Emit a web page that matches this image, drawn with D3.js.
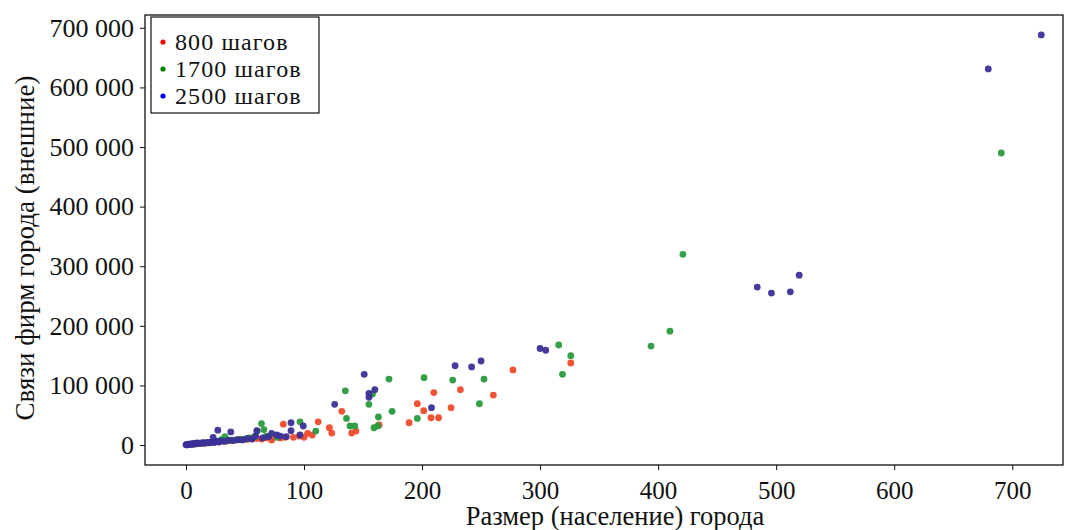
<!DOCTYPE html>
<html><head><meta charset="utf-8">
<script src="https://cdn.jsdelivr.net/npm/d3@7"></script>
<style>body{margin:0;background:#fff}svg{display:block}</style>
</head><body>
<svg id="c" width="1071" height="530"></svg>
<script>
const seriesNames = ["800 шагов", "1700 шагов", "2500 шагов"];
const xTicks = [0,100,200,300,400,500,600,700];
const yTicks = [0,100000,200000,300000,400000,500000,600000,700000];

// [size, links]
const red800 = [[1,500],[3,900],[5,1500],[8,1800],[10,2500],[13,3000],[16,3500],[20,4200],[24,5000],[28,5500],[32,6500],[36,7000],[40,8000],[44,8500],[48,9000],[52,9500],[56,10500],[60,11000],[64,10000],[68,12000],[72.6,8400],[76,14000],[80,12000],[84,13000],[91,13000],[82.5,35000],[96,15000],[100,13000],[103,19600],[107,16800],[112,39000],[121.5,29000],[123.5,20000],[132,56500],[140.4,20000],[144,23500],[163.6,33600],[189,37400],[196,69300],[201.4,57600],[207.6,45800],[210,88000],[214,45800],[224.6,62600],[232.5,92800],[260.4,83900],[277,126000],[326,137600]];
const green1700 = [[1,400],[4,1000],[7,1600],[11,2400],[15,3500],[19,3800],[23,5000],[27,6000],[30,9000],[33,14000],[38,8000],[42,8500],[46,9500],[50,10000],[54,12000],[58,14000],[60.4,23500],[64,36000],[66,26000],[68,15000],[77,13000],[96.6,39000],[110,23500],[135,91000],[136,44700],[139,31900],[143,31900],[155,68300],[158,85600],[159.3,29000],[162.5,32000],[163,47000],[172,110700],[174.6,56500],[196,44700],[201.7,113000],[226,109000],[248.6,69300],[252.5,110700],[315.8,168000],[319,118600],[326,150000],[394,166000],[410,191000],[421,320000],[690.7,490000]];
const blue2500 = [[0,300],[0.5,800],[1,1200],[1.5,600],[2,1500],[3,1000],[4,2000],[5,1400],[6,2500],[7,1800],[8,3000],[9,2200],[10,3500],[12,2800],[14,3800],[16,3000],[18,4500],[20,3800],[22,5000],[23,13000],[24,4200],[26,6000],[27,25000],[28,5000],[30,7000],[33,6000],[36,8000],[38,22000],[40,7500],[44,9000],[48,8500],[52,11000],[56,10000],[59,15000],[60,24000],[65,12000],[70,14000],[72.6,19600],[77,16800],[80,15000],[85,14000],[89,37400],[89,24000],[96.6,16800],[99.4,31900],[126,68300],[151,118600],[155,86700],[155,80000],[160,92800],[208,62600],[228,133000],[242,131000],[250,141000],[300,162000],[304.8,159000],[484,265000],[496,255000],[512,257000],[519.5,285000],[679.7,631000],[724.6,688000]];

const plotColors = ["#f04a2c", "#2a9a3e", "#3b3097"];
const legendColors = ["#ff0000", "#008000", "#0000ff"];
const seriesData = [red800, green1700, blue2500];

const W = 1071, H = 530;
const m = {left:145, right:8, top:15, bottom:65};
const svg = d3.select("#c");
const FONT = "'Liberation Serif', 'Times New Roman', serif";

const x = d3.scaleLinear().domain([-34.7, 743]).range([m.left, W - m.right]);
const y = d3.scaleLinear().domain([-33500, 721500]).range([H - m.bottom, m.top]);

const fmt = v => d3.format(",")(v).replace(/,/g, " ");

// points
seriesData.forEach((d, i) => {
  svg.append("g").selectAll("circle").data(d).join("circle")
    .attr("cx", p => x(p[0])).attr("cy", p => y(p[1])).attr("r", 3.4)
    .attr("fill", plotColors[i]).attr("opacity", 0.95);
});

// axes
const xa = svg.append("g").attr("transform", `translate(0,${H - m.bottom})`)
  .call(d3.axisBottom(x).tickValues(xTicks).tickSize(5).tickPadding(6).tickFormat(d3.format("d")));
const ya = svg.append("g").attr("transform", `translate(${m.left},0)`)
  .call(d3.axisLeft(y).tickValues(yTicks).tickSize(5).tickPadding(6).tickFormat(fmt));
[xa, ya].forEach(a => {
  a.select(".domain").remove();
  a.selectAll("text").attr("font-family", FONT).attr("fill", "#111");
  a.selectAll("line").attr("stroke", "#111");
});
xa.selectAll("text").attr("font-size", 25).attr("dy", "0.9em");
ya.selectAll("text").attr("font-size", 26);

// frame
svg.append("rect").attr("x", m.left).attr("y", m.top)
  .attr("width", W - m.left - m.right).attr("height", H - m.top - m.bottom)
  .attr("fill", "none").attr("stroke", "#111").attr("stroke-width", 1.3);

// axis labels
svg.append("text").attr("x", 615).attr("y", 525)
  .attr("text-anchor", "middle").attr("font-family", FONT).attr("font-size", 26.5).attr("fill", "#111")
  .text("Размер (население) города");
svg.append("text").attr("transform", `translate(34,248) rotate(-90)`)
  .attr("text-anchor", "middle").attr("font-family", FONT).attr("font-size", 27).attr("fill", "#111")
  .text("Связи фирм города (внешние)");

// legend
const lg = svg.append("g");
lg.append("rect").attr("x", 151).attr("y", 17).attr("width", 168).attr("height", 96)
  .attr("fill", "#fff").attr("stroke", "#111").attr("stroke-width", 1.2);
seriesNames.forEach((n, i) => {
  const cy = 42 + i * 27;
  lg.append("circle").attr("cx", 163).attr("cy", cy).attr("r", 2.6).attr("fill", legendColors[i]);
  lg.append("text").attr("x", 175).attr("y", cy + 8).attr("font-family", FONT).attr("font-size", 24)
    .attr("letter-spacing", 1.1).attr("fill", "#111").text(n);
});
</script>
</body></html>
